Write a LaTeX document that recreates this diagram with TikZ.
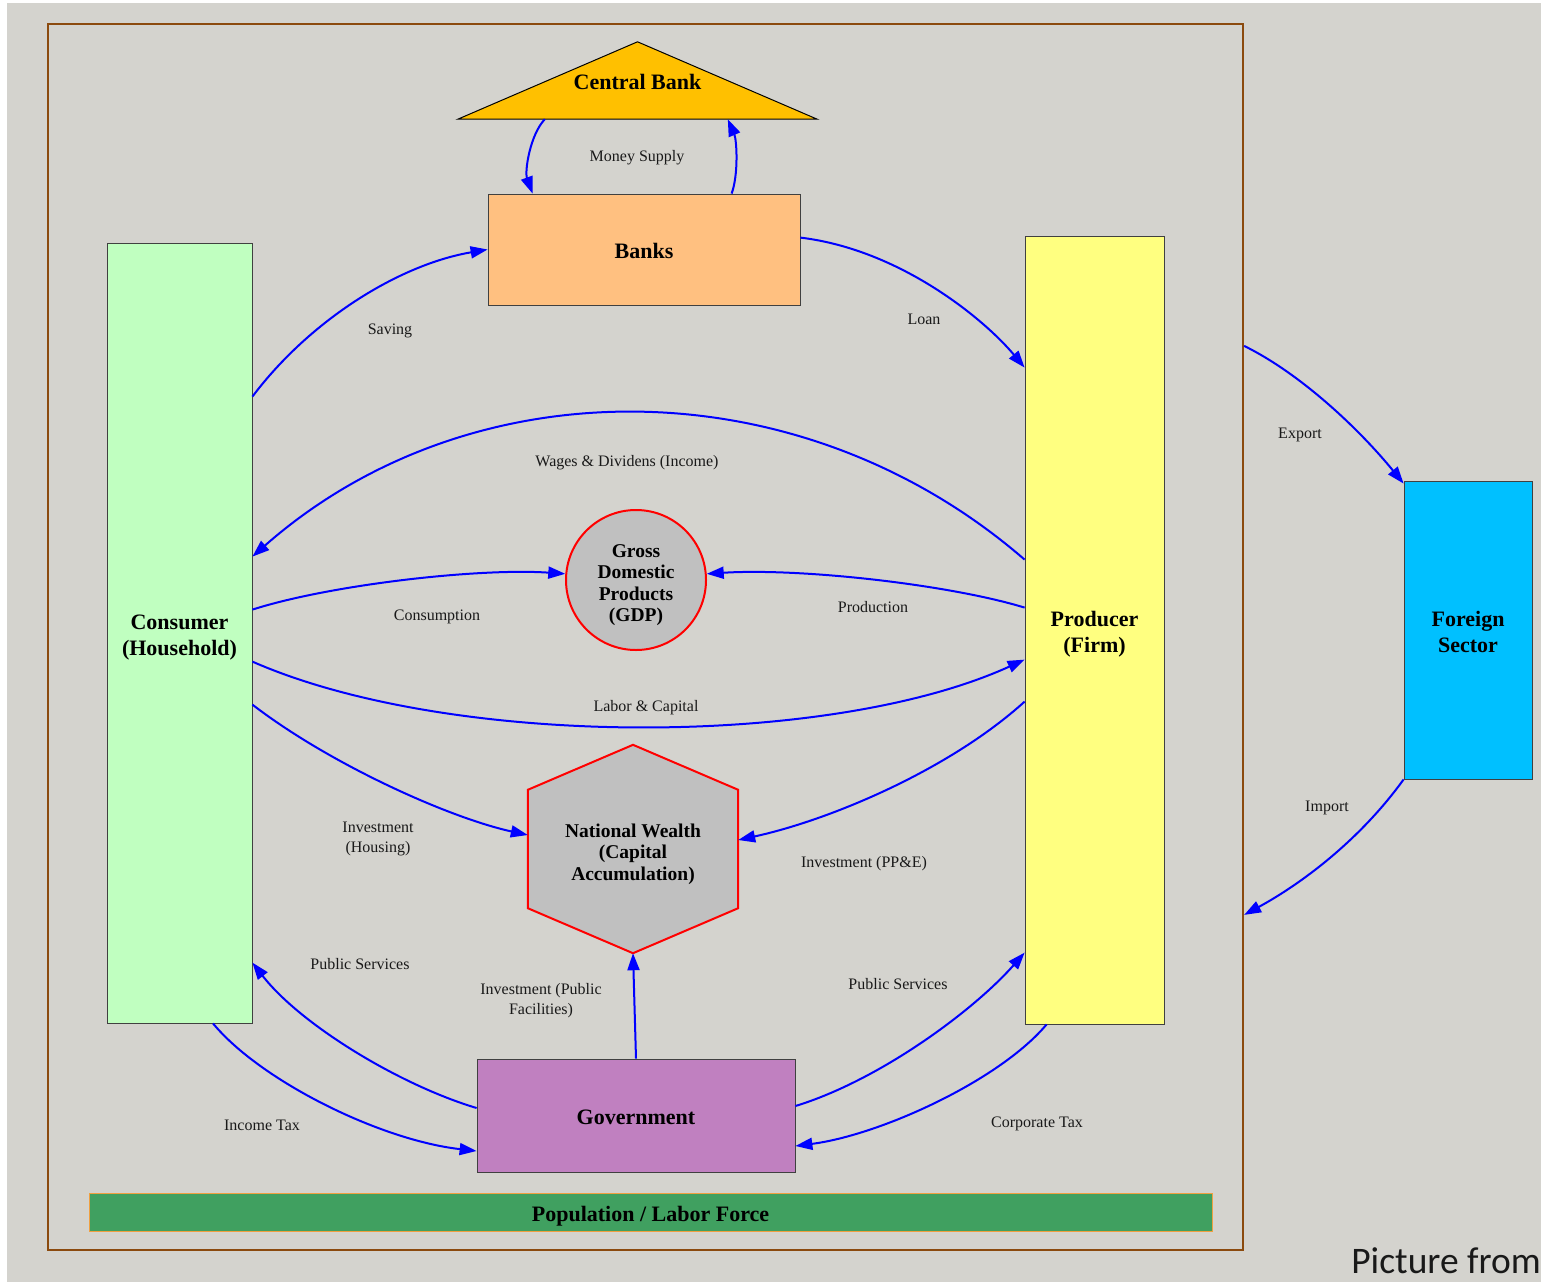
\documentclass[tikz,border=0pt]{standalone}
\usepackage{fontspec}
\setmainfont{Liberation Serif}
\newfontfamily\picfont{Carlito}
\usetikzlibrary{arrows.meta,calc}
\pgfdeclarelayer{bg}
\pgfsetlayers{bg,main}
\definecolor{bggray}{HTML}{D4D3CE}
\definecolor{framebrown}{HTML}{8B4A0E}
\definecolor{cbc}{HTML}{FFC000}
\definecolor{banksc}{HTML}{FFC080}
\definecolor{consc}{HTML}{C0FFC0}
\definecolor{prodc}{HTML}{FFFF80}
\definecolor{fsc}{HTML}{00C0FF}
\definecolor{gdpgray}{HTML}{C0C0C0}
\definecolor{govc}{HTML}{C080C0}
\definecolor{popc}{HTML}{40A060}
\definecolor{popborder}{HTML}{F0A040}
% struts fixing the vertical placement of texts
\newcommand\bT{\rule{0pt}{23pt}}
\newcommand\bB{\rule[-5pt]{0pt}{5pt}}
\newcommand\rT{\rule{0pt}{24pt}}
\newcommand\rB{\rule[-5pt]{0pt}{5pt}}
\newcommand\lT{\rule{0pt}{16pt}}
\newcommand\lB{\rule[-4pt]{0pt}{4pt}}
\begin{document}
\begin{tikzpicture}[x=1pt,y=1pt,
  box/.style={draw=black!75, line width=0.8pt, inner sep=0pt, align=center,
    font=\fontsize{22}{26}\selectfont\bfseries},
  roundtxt/.style={inner sep=0pt, align=center, font=\fontsize{19.5}{21.5}\selectfont\bfseries},
  lbl/.style={inner sep=0pt, align=center, text=black!90, font=\fontsize{16}{20.5}\selectfont},
  flow/.style={draw=blue, line width=2pt, -{Triangle[length=17pt,width=12pt]}},
]
\useasboundingbox (0,0) rectangle (1541,-1282);

% frame
\node[draw=framebrown, line width=2.2pt, minimum width=1195pt, minimum height=1226pt, inner sep=0pt] (fr) at (645.5,-637) {};

% nodes
\node[inner sep=0pt, minimum width=359pt, minimum height=77pt, align=center, font=\fontsize{22}{26}\selectfont\bfseries] (cb) at (637.5,-80.5) {\bT Central Bank\bB};
\node[box, fill=banksc, minimum width=312pt, minimum height=111pt] (banks) at (644,-249.5) {\bT Banks\bB};
\node[box, fill=consc, minimum width=145pt, minimum height=780pt] (cons) at (179.5,-633) {\bT Consumer\\(Household)\bB};
\node[box, fill=prodc, minimum width=139pt, minimum height=788pt] (prod) at (1094.5,-630) {\bT Producer\\(Firm)\bB};
\node[box, fill=fsc, minimum width=128pt, minimum height=298pt] (fs) at (1468,-630) {\bT Foreign\\Sector\bB};
\node[roundtxt, circle, draw=red, line width=2pt, fill=gdpgray, minimum size=140pt] (gdp) at (636,-580) {\rT Gross\\Domestic\\Products\\(GDP)\rB};
\node[roundtxt, minimum width=210pt, minimum height=208pt] (nw) at (633,-849) {\rT National Wealth\\(Capital\\Accumulation)\rB};
\node[box, fill=govc, minimum width=318pt, minimum height=113pt] (gov) at (636,-1115.5) {\bT Government\bB};
\node[draw=popborder, line width=1pt, fill=popc, minimum width=1123pt, minimum height=38pt, inner sep=0pt, align=center,
  font=\fontsize{22}{26}\selectfont\bfseries] (pop) at (650.5,-1212) {\bT Population / Labor Force\bB};

\node[anchor=base east, inner sep=0pt, font=\picfont\fontsize{37.5}{40}\selectfont, text=black!90] (pic) at (1541,-1273) {Picture from};

% background layer
\begin{pgfonlayer}{bg}
\fill[white] (0,0) rectangle (1541,-1282);
\fill[bggray] (7,-3) rectangle (1541,-1282);
\filldraw[fill=cbc, draw=black, line width=1pt] (cb.south west) -- (cb.north) -- (cb.south east) -- cycle;
\filldraw[fill=gdpgray, draw=red, line width=2pt]
  (nw.north) -- ($(nw.north east)+(0,-45)$) -- ($(nw.south east)+(0,45)$) -- (nw.south)
  -- ($(nw.south west)+(0,45)$) -- ($(nw.north west)+(0,-45)$) -- cycle;
\end{pgfonlayer}

% connectors
\draw[flow] ($(cb.south west)+(87,0)$) .. controls +(-15,-16) and +(-8,22) .. ($(banks.north west)+(45,0)$);
\draw[flow] ($(banks.north west)+(244,0)$) .. controls +(7,19) and +(9,-21) .. ($(cb.south west)+(270,0)$);
\draw[flow] ($(cons.north east)+(0,-154)$) .. controls +(58,77) and +(-88,-15) .. (banks.west);
\draw[flow] ($(banks.north east)+(0,-44)$) .. controls +(100,-12) and +(-40,48) .. ($(prod.north west)+(0,-132)$);
\draw[flow] ($(prod.north west)+(0,-324)$) .. controls +(-225,195) and +(218,192) .. ($(cons.north east)+(0,-314)$);
\draw[flow] ($(cons.north east)+(0,-367)$) .. controls +(78,25) and +(-86,6) .. (gdp.175);
\draw[flow] ($(prod.north west)+(0,-372)$) .. controls +(-75,23) and +(94,6) .. (gdp.5);
\draw[flow] ($(cons.north east)+(0,-419)$) .. controls +(198,-87) and +(-195,-89) .. ($(prod.north west)+(0,-424)$);
\draw[flow] ($(cons.north east)+(0,-462)$) .. controls +(78,-60) and +(-78,17) .. ($(nw.west)+(0,14)$);
\draw[flow] ($(prod.north west)+(0,-466)$) .. controls +(-75,-68) and +(92,20) .. ($(nw.east)+(0,9)$);
\draw[flow] ($(gov.west)+(0,7.5)$) .. controls +(-77,23) and +(48,-62) .. ($(cons.north east)+(0,-720)$);
\draw[flow] (gov.north) -- (nw.south);
\draw[flow] ($(gov.east)+(0,9.5)$) .. controls +(85,26) and +(-50,-57) .. ($(prod.north west)+(0,-717)$);
\draw[flow] ($(cons.south)+(33.5,0)$) .. controls +(47,-57) and +(-97,11) .. ($(gov.west)+(0,-35.5)$);
\draw[flow] ($(prod.south west)+(22,0)$) .. controls +(-47,-56) and +(85,11) .. ($(gov.east)+(0,-30.5)$);
\draw[flow] ($(fr.north east)+(0,-323)$) .. controls +(57,-28) and +(-44,54) .. ($(fs.north west)+(0,-3)$);
\draw[flow] (fs.south west) .. controls +(-44,-61) and +(57,31) .. ($(fr.north east)+(0,-892)$);

% connector labels
\node[lbl] (lms) at (637,-155) {\lT Money Supply\lB};
\node[lbl] (lsav) at (390,-328) {\lT Saving\lB};
\node[lbl] (lloan) at (924,-318) {\lT Loan\lB};
\node[lbl] (lwage) at (627,-460) {\lT Wages \& Dividens (Income)\lB};
\node[lbl] (lcons) at (437,-614) {\lT Consumption\lB};
\node[lbl] (lprod) at (873,-606) {\lT Production\lB};
\node[lbl] (llab) at (646,-705) {\lT Labor \& Capital\lB};
\node[lbl] (lhous) at (378,-836.5) {\lT Investment\\(Housing)\lB};
\node[lbl] (lppe) at (864,-861) {\lT Investment (PP\&E)\lB};
\node[lbl] (lps1) at (360,-963) {\lT Public Services\lB};
\node[lbl] (lpub) at (541,-998.5) {\lT Investment (Public\\Facilities)\lB};
\node[lbl] (lps2) at (898,-983) {\lT Public Services\lB};
\node[lbl] (linc) at (262,-1124) {\lT Income Tax\lB};
\node[lbl] (lcorp) at (1037,-1121) {\lT Corporate Tax\lB};
\node[lbl] (lexp) at (1300,-432) {\lT Export\lB};
\node[lbl] (limp) at (1327,-805) {\lT Import\lB};
\end{tikzpicture}
\end{document}
